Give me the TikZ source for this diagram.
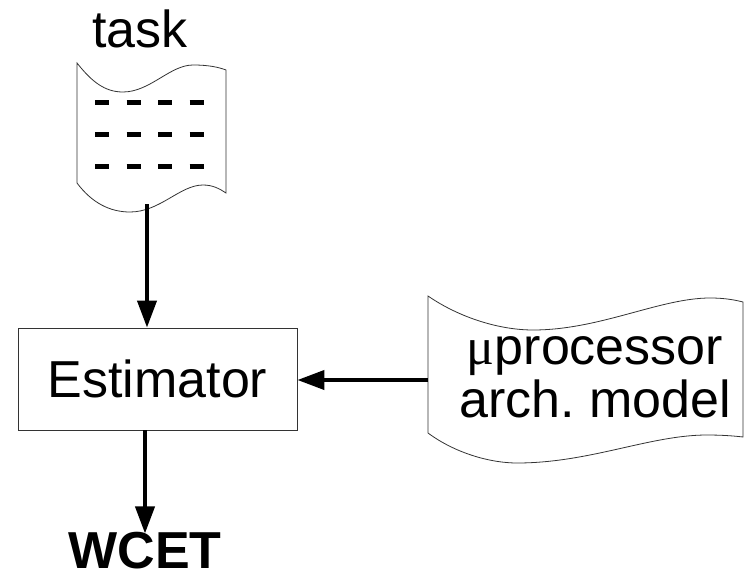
\documentclass[tikz,border=0pt]{standalone}
\usepackage{fontspec}
\setmainfont{Liberation Sans}
\newfontfamily\greekfont{Liberation Serif}
\usetikzlibrary{arrows.meta}
\tikzset{
  outline/.style={line width=0.8pt, draw=black!80},
  flow/.style={line width=4pt, -{Triangle[length=27pt,width=19pt]}},
  big/.style={font=\fontsize{52}{53}\selectfont},
}
\frenchspacing
\begin{document}
\begin{tikzpicture}[x=1pt,y=-1pt]
  \useasboundingbox (0,0) rectangle (744,575);
  % task listing
  \node[big, anchor=base] (tasklbl) at (140,48) {task};
  \draw[outline] (77,63) .. controls (92,82) and (105,92) .. (123,92)
    .. controls (150,92) and (170,65) .. (193,65)
    .. controls (208,65) and (218,67) .. (226,70) -- (226,193)
    .. controls (220,189) and (213,185) .. (203,185)
    .. controls (180,185) and (160,212) .. (130,212)
    .. controls (110,212) and (92,203) .. (77,183) -- cycle;
  \foreach \y in {103,135,166}
    \draw[line width=5pt, dash pattern=on 14pt off 17.5pt] (95,\y) -- (206,\y);
  \coordinate (taskout) at (147,204);
  % estimator
  \node[big, draw, outline, minimum width=279pt, minimum height=102pt] (est) at (157.5,379) {Estimator};
  \node[big, font=\fontsize{52}{53}\selectfont\bfseries, anchor=base, inner sep=1pt] (wcet) at (145,568) {WCET};
  % processor model
  \draw[outline] (428,296) .. controls (460,318) and (500,330) .. (533,330)
    .. controls (600,330) and (660,298) .. (710,298)
    .. controls (725,298) and (735,300) .. (743,302) -- (743,437)
    .. controls (735,436) and (722,435) .. (707,435)
    .. controls (650,435) and (590,463) .. (517,463)
    .. controls (490,463) and (455,453) .. (428,433) -- cycle;
  \node[big, align=center] (model) at (595,377) {{\greekfont μ}processor\\arch. model};
  \coordinate (modelin) at (428,380);
  \draw[flow] (taskout) -- (taskout |- est.north);
  \draw[flow] (est.south -| wcet) -- ([yshift=-3pt]wcet.north);
  \draw[flow] (modelin) -- (modelin -| est.east);
\end{tikzpicture}
\end{document}
